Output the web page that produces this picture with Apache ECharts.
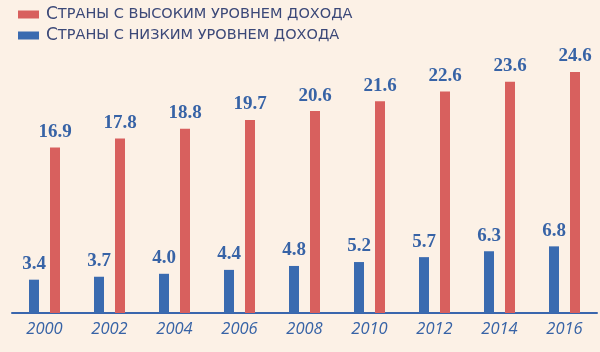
<!DOCTYPE html>
<html>
<head>
<meta charset="utf-8">
<script src="https://cdn.jsdelivr.net/npm/echarts@6/dist/echarts.min.js"></script>
<style>
  html, body { margin: 0; padding: 0; background: #fcf1e6; }
  #chart { width: 600px; height: 352px; }
</style>
</head>
<body>
<div id="chart"></div>
<script>
var years = ['2000', '2002', '2004', '2006', '2008', '2010', '2012', '2014', '2016'];
var highIncome = [16.9, 17.8, 18.8, 19.7, 20.6, 21.6, 22.6, 23.6, 24.6];
var lowIncome = [3.4, 3.7, 4.0, 4.4, 4.8, 5.2, 5.7, 6.3, 6.8];
var nameHigh = 'Страны с высоким уровнем дохода';
var nameLow = 'Страны с низким уровнем дохода';

var textBlue = '#3763a6';

// малые капители: первая буква крупнее, остальное прописными помельче
function smallCaps(str) {
  return '{cap|' + str.charAt(0) + '}{sc|' + str.slice(1).toUpperCase() + '}';
}

var valueLabel = {
  show: true,
  position: 'top',
  distance: 6,
  color: textBlue,
  fontFamily: 'Liberation Serif',
  fontWeight: 'bold',
  fontSize: 19,
  formatter: function (p) { return p.value.toFixed(1); }
};

var myChart = echarts.init(document.getElementById('chart'));
var option = {
  backgroundColor: '#fcf1e6',
  animation: false,
  legend: {
    orient: 'vertical',
    left: 13,
    top: 1,
    icon: 'rect',
    itemWidth: 21,
    itemHeight: 8,
    itemGap: 4,
    data: [nameHigh, nameLow],
    formatter: smallCaps,
    textStyle: {
      color: '#3b4878',
      padding: [0, 0, 0, 2],
      rich: {
        cap: { fontFamily: 'DejaVu Sans', fontSize: 17, color: '#3b4878' },
        sc: { fontFamily: 'DejaVu Sans', fontSize: 14.5, color: '#3b4878' }
      }
    }
  },
  grid: { left: 12, right: 3, top: 19, bottom: 39 },
  xAxis: {
    type: 'category',
    data: years,
    axisLine: { lineStyle: { color: '#3a66ad', width: 2 } },
    axisTick: { show: false },
    axisLabel: {
      color: textBlue,
      fontFamily: 'Open Sans',
      fontStyle: 'italic',
      fontSize: 16.5,
      margin: 8
    }
  },
  yAxis: {
    type: 'value',
    min: 0,
    max: 30,
    show: false,
    splitLine: { show: false }
  },
  series: [
    {
      name: nameLow,
      type: 'bar',
      data: lowIncome,
      barWidth: 10,
      barGap: '110%',
      itemStyle: { color: '#3a6bb0' },
      label: valueLabel
    },
    {
      name: nameHigh,
      type: 'bar',
      data: highIncome,
      barWidth: 10,
      itemStyle: { color: '#d8605e' },
      label: valueLabel
    }
  ]
};
myChart.setOption(option);
</script>
</body>
</html>
